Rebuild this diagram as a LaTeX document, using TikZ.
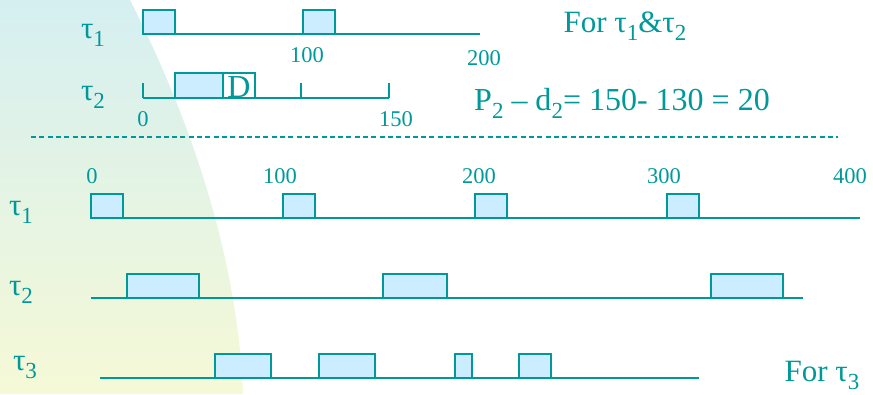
\documentclass[tikz,border=0pt]{standalone}
\usepackage{fontspec}
\setmainfont{Liberation Serif}
\usetikzlibrary{positioning}
\definecolor{tealink}{RGB}{0,153,153}
\definecolor{jobfill}{RGB}{204,236,255}
\definecolor{bgtop}{RGB}{213,239,241}
\definecolor{bgbot}{RGB}{245,249,214}
\newcommand{\ix}[1]{\raisebox{-0.27em}{\fontsize{23}{23}\selectfont #1}}

\begin{document}
\begin{tikzpicture}[
    x=1pt, y=-1pt,
    every node/.style={text=tealink, inner sep=0pt},
    big/.style={font=\fontsize{31}{31}\selectfont, anchor=base},
    num/.style={font=\fontsize{22.5}{22.5}\selectfont, anchor=base},
    axis/.style={draw=tealink, line width=1.5pt},
    job/.style={draw=tealink, fill=jobfill, line width=1.3pt},
]
\useasboundingbox (0,0) rectangle (873,394);
\shade[top color=bgtop, bottom color=bgbot] (0,0) -- (130,0)
    .. controls (192,122) and (238,260) .. (243,394) -- (0,394) -- cycle;

% tau_1 and tau_2 together
\draw[axis] (143,34) -- (480,34);
\foreach \a/\b in {143/175, 303/335}
    \draw[job] (\a,10) rectangle (\b,34);
\node[big] (tau1a) at (93,38) {τ\ix{1}};
\node[num] (n100a) at (307,62) {100};
\node[num] (n200a) at (484,65) {200};
\node[big] (forab) at (625,32) {For τ\ix{1}\&τ\ix{2}};

\draw[axis] (143,98) -- (389,98);
\foreach \t in {143,301,389}
    \draw[axis] (\t,83) -- (\t,98);
\draw[job] (175,73) rectangle (223,98);
\draw[draw=tealink, line width=1.3pt] (223,73) rectangle (255,98);
\node[big, font=\fontsize{32}{32}\selectfont] (dead) at (239,97) {D};
\node[big] (tau2a) at (93,100) {τ\ix{2}};
\node[num] (n0a) at (143,126) {0};
\node[num] (n150a) at (396,126) {150};
\node[big, font=\fontsize{32}{32}\selectfont] (slack) at (622,110) {P\ix{2} – d\ix{2}= 150- 130 = 20};

\draw[tealink, line width=1.3pt, dash pattern=on 5pt off 3.3pt] (31,137) -- (838,137);

% tau_3
\foreach \x/\v in {92/0, 280/100, 479/200, 664/300, 850/400}
    \node[num] (n\v) at (\x,183) {\v};

\draw[axis] (91,218) -- (860,218);
\foreach \a/\b in {91/123, 283/315, 475/507, 667/699}
    \draw[job] (\a,194) rectangle (\b,218);
\node[big] (tau1b) at (21,215) {τ\ix{1}};

\draw[axis] (91,298) -- (803,298);
\foreach \a/\b in {127/199, 383/447, 711/783}
    \draw[job] (\a,274) rectangle (\b,298);
\node[big] (tau2b) at (21,295) {τ\ix{2}};

\draw[axis] (100,378) -- (699,378);
\foreach \a/\b in {215/271, 319/375, 455/472, 519/551}
    \draw[job] (\a,354) rectangle (\b,378);
\node[big] (tau3b) at (25,370) {τ\ix{3}};
\node[big] (forc) at (822,381) {For τ\ix{3}};
\end{tikzpicture}
\end{document}
